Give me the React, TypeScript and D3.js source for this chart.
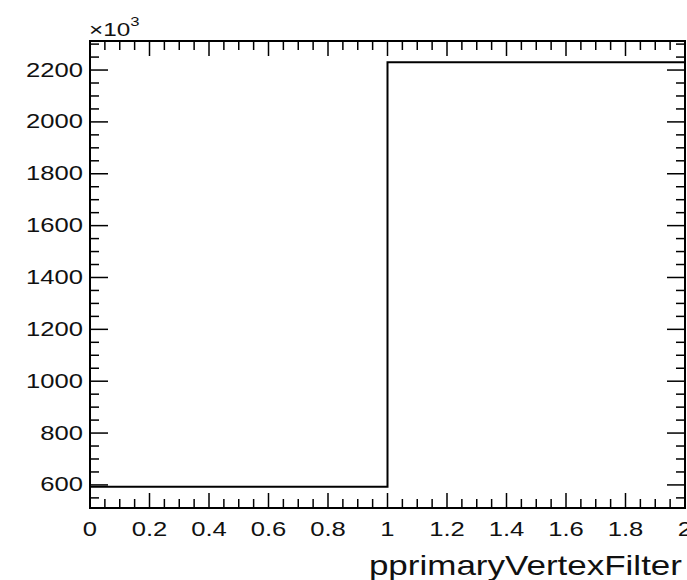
import React from "react";
import * as d3 from "d3";

const binEdges = [0, 1, 2];
const binValues = [593, 2230];
const xTicks = [0, 0.2, 0.4, 0.6, 0.8, 1, 1.2, 1.4, 1.6, 1.8, 2];
const xTickLabels = ["0", "0.2", "0.4", "0.6", "0.8", "1", "1.2", "1.4", "1.6", "1.8", "2"];
const yTicks = [600, 800, 1000, 1200, 1400, 1600, 1800, 2000, 2200];
const yTickLabels = ["600", "800", "1000", "1200", "1400", "1600", "1800", "2000", "2200"];
const xTitle = "pprimaryVertexFilter";

const W = 687, H = 580;
const L = 90, R = 685, T = 41, B = 508;
const SX = 1.22;
const FONT = "'Liberation Sans', Arial, Helvetica, sans-serif";

export default function App() {
  const x = d3.scaleLinear().domain([0, 2]).range([L, R]);
  const y = d3.scaleLinear().domain([511, 2312]).range([B, T]);

  const xMinor = d3.range(0, 2.0001, 0.05).filter(v => !xTicks.some(t => Math.abs(t - v) < 1e-6));
  const yMinor = d3.range(550, 2312, 50).filter(v => !yTicks.includes(v));

  const pts: [number, number][] = [];
  binValues.forEach((v, i) => {
    pts.push([x(binEdges[i]), y(v)]);
    pts.push([x(binEdges[i + 1]), y(v)]);
  });
  const line = d3.line()(pts) || "";

  const maj = 15, mnr = 9, ymaj = 18, ymnr = 9;

  return (
    <svg width={W} height={H} style={{ position: "absolute", left: 0, top: 0, background: "#fff" }}>
      <rect x={0} y={0} width={W} height={H} fill="#fff" />
      {xTicks.map((t, i) => (
        <g key={"xt" + i} stroke="#000" strokeWidth={1.5}>
          <line x1={x(t)} x2={x(t)} y1={B} y2={B - maj} />
          <line x1={x(t)} x2={x(t)} y1={T} y2={T + maj} />
        </g>
      ))}
      {xMinor.map((t, i) => (
        <g key={"xm" + i} stroke="#000" strokeWidth={1.5}>
          <line x1={x(t)} x2={x(t)} y1={B} y2={B - mnr} />
          <line x1={x(t)} x2={x(t)} y1={T} y2={T + mnr} />
        </g>
      ))}
      {yTicks.map((t, i) => (
        <g key={"yt" + i} stroke="#000" strokeWidth={1.5}>
          <line x1={L} x2={L + ymaj} y1={y(t)} y2={y(t)} />
          <line x1={R} x2={R - ymaj} y1={y(t)} y2={y(t)} />
        </g>
      ))}
      {yMinor.map((t, i) => (
        <g key={"ym" + i} stroke="#000" strokeWidth={1.5}>
          <line x1={L} x2={L + ymnr} y1={y(t)} y2={y(t)} />
          <line x1={R} x2={R - ymnr} y1={y(t)} y2={y(t)} />
        </g>
      ))}
      <path d={line} fill="none" stroke="#000" strokeWidth={2} />
      <rect x={L} y={T} width={R - L} height={B - T} fill="none" stroke="#000" strokeWidth={2} />
      {xTicks.map((t, i) => (
        <text key={"xl" + i} transform={`translate(${x(t)},${536}) scale(${SX},1)`} textAnchor="middle"
          fontFamily={FONT} fontSize={21} fill="#111">{xTickLabels[i]}</text>
      ))}
      {yTicks.map((t, i) => (
        <text key={"yl" + i} transform={`translate(${83},${y(t) + 6.5}) scale(${SX},1)`} textAnchor="end"
          fontFamily={FONT} fontSize={21} fill="#111">{yTickLabels[i]}</text>
      ))}
      <text transform={`translate(${89},${36}) scale(1.28,1)`} fontFamily={FONT} fontSize={19} fill="#111">
        ×10
        <tspan fontSize={13} dy={-10}>3</tspan>
      </text>
      <text transform={`translate(${682},${575}) scale(1.25,1)`} textAnchor="end"
        fontFamily={FONT} fontSize={28} fill="#111">{xTitle}</text>
    </svg>
  );
}
